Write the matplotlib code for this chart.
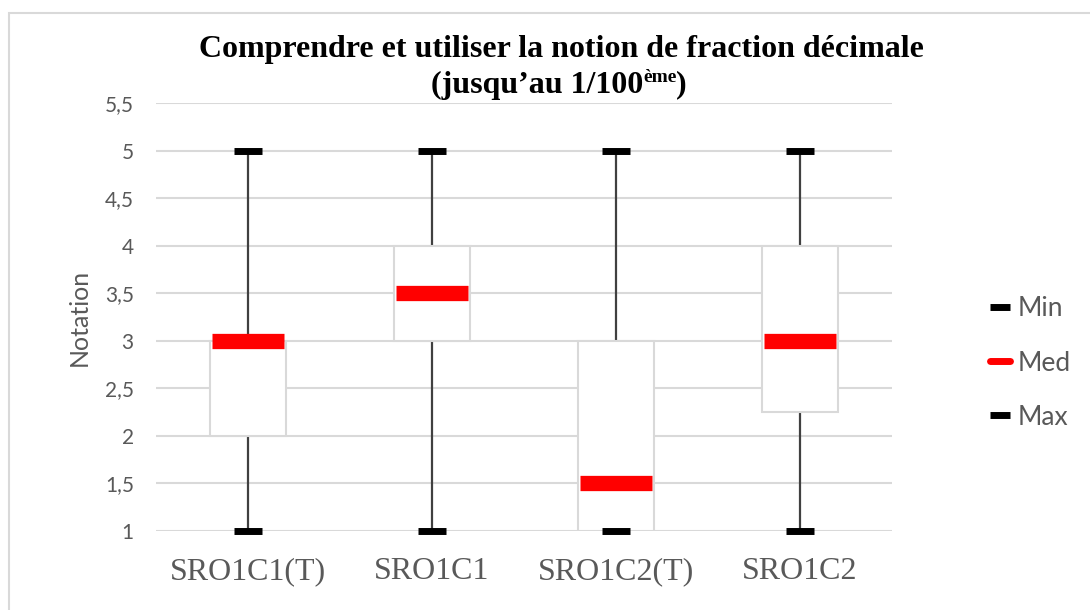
import numpy as np
import matplotlib.pyplot as plt
from matplotlib.lines import Line2D
from matplotlib.patches import Rectangle

# donnees
groupes = ['SRO1C1(T)', 'SRO1C1', 'SRO1C2(T)', 'SRO1C2']
val_min = [1, 1, 1, 1]
val_q1 = [2, 3, 1, 2.25]
val_med = [3, 3.5, 1.5, 3]
val_q3 = [3, 4, 3, 4]
val_max = [5, 5, 5, 5]
yticks = [1, 1.5, 2, 2.5, 3, 3.5, 4, 4.5, 5, 5.5]

gris = '#595959'
calibri = ['Lato', 'DejaVu Sans']
times = ['Liberation Serif', 'DejaVu Serif']

fig = plt.figure(figsize=(10.9, 6.1), dpi=100)
ax = fig.add_axes([156/1090, 1 - 531/610, 736/1090, 428/610])

x = np.arange(len(groupes))

# moustaches derriere les boites
ax.vlines(x, val_min, val_max, color='#404040', lw=1.6, zorder=2)
ax.bar(x, np.array(val_q3) - np.array(val_q1), bottom=val_q1, width=0.41,
       color='white', edgecolor='#d9d9d9', lw=1.5, zorder=3)
ax.hlines(val_min, x - 0.075, x + 0.075, color='black', lw=5, zorder=4, clip_on=False)
ax.hlines(val_max, x - 0.075, x + 0.075, color='black', lw=5, zorder=4, clip_on=False)
ax.hlines(val_med, x - 0.195, x + 0.195, color='#ff0000', lw=11, zorder=5)

ax.set_xlim(-0.5, 3.5)
ax.set_ylim(1, 5.5)
ax.set_yticks(yticks)
ax.set_yticklabels([('%g' % v).replace('.', ',') for v in yticks],
                   fontfamily=calibri, fontsize=15, color=gris)
ax.set_xticks(x)
ax.set_xticklabels(groupes, fontfamily=times, fontsize=23, color=gris)
ax.tick_params(length=0)
ax.tick_params(axis='y', pad=16)
ax.tick_params(axis='x', pad=19)
ax.grid(axis='y', color='#d9d9d9', lw=1.5, zorder=0)
ax.set_axisbelow(True)
for s in ax.spines.values():
    s.set_visible(False)

ax.set_ylabel('Notation', fontfamily=calibri, fontsize=18, color=gris, labelpad=10)

titre = dict(fontfamily=times, fontweight='bold', fontsize=23, va='center')
fig.text(0.515, 1 - 49/610, 'Comprendre et utiliser la notion de fraction décimale',
         ha='center', **titre)
xs = 643/1090
fig.text(xs, 1 - 85/610, '(jusqu’au 1/100', ha='right', **titre)
fig.text(xs, 1 - 78/610, 'ème', ha='left', fontfamily=times, fontweight='bold',
         fontsize=14, va='center')
fig.text(xs + 33/1090, 1 - 85/610, ')', ha='left', **titre)

handles = [Line2D([], [], color='black', lw=5, solid_capstyle='butt'),
           Line2D([], [], color='#ff0000', lw=5, solid_capstyle='round'),
           Line2D([], [], color='black', lw=5, solid_capstyle='butt')]
leg = fig.legend(handles, ['Min', 'Med', 'Max'], loc='center left',
                 bbox_to_anchor=(990/1090, 1 - 363/610), frameon=False,
                 borderaxespad=0, borderpad=0,
                 handlelength=0.75, handletextpad=0.3, labelspacing=1.1,
                 prop={'family': calibri, 'size': 19})
for t in leg.get_texts():
    t.set_color(gris)

fig.patches.append(Rectangle((9/1090, -0.1), 1.2, 1.1 - 13/610, transform=fig.transFigure,
                             fill=False, edgecolor='#d9d9d9', lw=1.5))

fig.savefig('out.png', dpi=100)
